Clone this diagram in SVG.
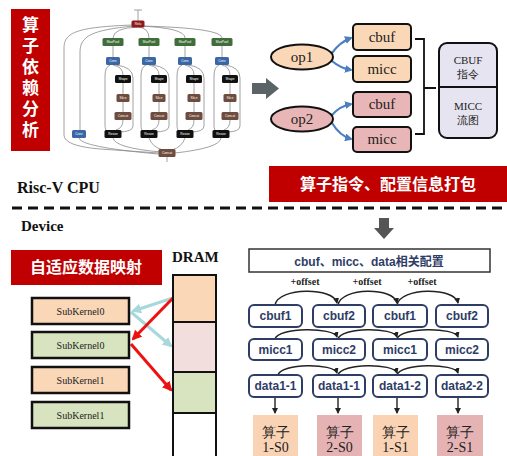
<svg xmlns="http://www.w3.org/2000/svg" width="507" height="456" viewBox="0 0 507 456">
<defs>
<style>
.g{fill:none;stroke:#8a8a8a;stroke-width:0.8}
.n{stroke:none}
.nt{font-family:"Liberation Sans",sans-serif;font-size:3.2px;fill:#fff;text-anchor:middle}
.relu{fill:#8e1b1b}.mp{fill:#3f6e3a}.cv{fill:#3b67a6}.bk{fill:#111}.br{fill:#6e4c3e}
.red{fill:#c00000}
.wt{font-family:"Noto Sans CJK SC",sans-serif;font-weight:bold;fill:#fff;text-anchor:middle}
.sf{font-family:"Liberation Serif",serif;fill:#222;text-anchor:middle}
.bx{stroke:#111;stroke-width:2}
.pe{fill:#fad7b7}.pk{fill:#e8b6b6}.gr{fill:#d8e4bf}
.cb{fill:#fff;stroke:#2e3d66;stroke-width:2}
.ct{font-family:"Liberation Sans","Noto Sans CJK SC",sans-serif;font-weight:bold;font-size:12px;fill:#2e3d66;text-anchor:middle}
.arc{fill:none;stroke:#222;stroke-width:1.4;marker-end:url(#ak)}
</style>
<marker id="ak" markerWidth="6" markerHeight="6" refX="5" refY="3" orient="auto" markerUnits="userSpaceOnUse"><path d="M0,0 L6,3 L0,6 z" fill="#222"/></marker>
<marker id="ab" markerWidth="8" markerHeight="8" refX="6" refY="4" orient="auto" markerUnits="userSpaceOnUse"><path d="M0,0 L8,4 L0,8 z" fill="#4a7fc1"/></marker>
<marker id="alb" markerWidth="10" markerHeight="10" refX="8" refY="5" orient="auto" markerUnits="userSpaceOnUse"><path d="M0,0 L10,5 L0,10 z" fill="#a8d8dc"/></marker>
<marker id="ar" markerWidth="10" markerHeight="10" refX="8" refY="5" orient="auto" markerUnits="userSpaceOnUse"><path d="M0,0 L10,5 L0,10 z" fill="#ee1111"/></marker>
</defs>
<rect width="507" height="456" fill="#fff"/>

<g id="title-dep">
<rect x="11" y="9" width="39" height="142" class="red"/>
<text x="30.5" y="16.5" writing-mode="tb" letter-spacing="4" font-size="17" font-family="Noto Sans CJK SC,sans-serif" font-weight="bold" fill="#fff">算子依赖分析</text>
</g>

<g id="graph-edges">
<path class="g" d="M138,10 L138,21 M134,10 L142,10"/>
<path class="g" d="M138,27 Q113,28 113,38 M138,27 Q149,28 149,38 M140,26 Q185,28 185,38 M142,26 Q222,28 222,38"/>
<path class="g" d="M133,25 C78,27 64,32 64,48 L64,135 Q64,146 100,149 L159,153"/>
<path class="g" d="M134,26 C92,30 80,36 80,52 L80,130"/>
<path class="g" d="M79,138 Q80,147 158,154"/>
<g id="col-edges">
<path class="g" d="M113,46 L113,57 M113,65 Q123,67 123,75 M110,65 Q105,67 105,76 L105,125 Q105,131 108,131 M116,65 Q133,67 133,78 L133,126 Q133,132 118,132 M123,83 L123,94 M123,102 L123,112 M123,120 Q123,128 116,130 M113,138 Q115,148 161,152"/>
<path class="g" d="M149,46 L149,57 M149,65 Q159,67 159,75 M146,65 Q141,67 141,76 L141,125 Q141,131 144,131 M152,65 Q169,67 169,78 L169,126 Q169,132 154,132 M159,83 L159,94 M159,102 L159,112 M159,120 Q159,128 152,130 M149,138 Q152,147 163,150"/>
<path class="g" d="M185,46 L185,57 M185,65 Q194,67 194,75 M182,65 Q177,67 177,76 L177,125 Q177,131 180,131 M188,65 Q204,67 204,78 L204,126 Q204,132 190,132 M194,83 L194,94 M194,102 L194,112 M194,120 Q194,128 188,130 M185,138 Q182,147 172,150"/>
<path class="g" d="M222,46 L222,57 M222,65 Q230,67 230,75 M219,65 Q214,67 214,76 L214,125 Q214,131 217,131 M225,65 Q240,67 240,78 L240,126 Q240,132 226,132 M230,83 L230,94 M230,102 L230,112 M230,120 Q230,128 224,130 M221,138 Q220,148 175,153"/>
</g>
<path class="g" d="M167,157 L167,162"/>
</g>

<g id="graph-nodes">
<g id="n-relu"><rect x="131.5" y="20.5" width="13" height="7" rx="1.5" class="relu"/><text class="nt" x="138" y="25">Relu</text></g>
<g id="n-mp1"><rect x="102.5" y="38" width="21" height="8" rx="1.5" class="mp"/><text class="nt" x="113" y="43">MaxPool</text></g>
<g id="n-mp2"><rect x="138.5" y="38" width="21" height="8" rx="1.5" class="mp"/><text class="nt" x="149" y="43">MaxPool</text></g>
<g id="n-mp3"><rect x="174.5" y="38" width="21" height="8" rx="1.5" class="mp"/><text class="nt" x="185" y="43">MaxPool</text></g>
<g id="n-mp4"><rect x="211.5" y="38" width="21" height="8" rx="1.5" class="mp"/><text class="nt" x="222" y="43">MaxPool</text></g>
<g id="n-cv1"><rect x="106" y="57" width="14" height="8" rx="1.5" class="cv"/><text class="nt" x="113" y="62">Conv</text></g>
<g id="n-cv2"><rect x="142" y="57" width="14" height="8" rx="1.5" class="cv"/><text class="nt" x="149" y="62">Conv</text></g>
<g id="n-cv3"><rect x="178" y="57" width="14" height="8" rx="1.5" class="cv"/><text class="nt" x="185" y="62">Conv</text></g>
<g id="n-cv4"><rect x="215" y="57" width="14" height="8" rx="1.5" class="cv"/><text class="nt" x="222" y="62">Conv</text></g>
<g id="n-sh1"><rect x="115" y="75" width="16" height="8" rx="1.5" class="bk"/><text class="nt" x="123" y="80">Shape</text></g>
<g id="n-sh2"><rect x="151" y="75" width="16" height="8" rx="1.5" class="bk"/><text class="nt" x="159" y="80">Shape</text></g>
<g id="n-sh3"><rect x="186" y="75" width="16" height="8" rx="1.5" class="bk"/><text class="nt" x="194" y="80">Shape</text></g>
<g id="n-sh4"><rect x="222" y="75" width="16" height="8" rx="1.5" class="bk"/><text class="nt" x="230" y="80">Shape</text></g>
<g id="n-sl1"><rect x="116.5" y="94" width="13" height="8" rx="1.5" class="br"/><text class="nt" x="123" y="99">Slice</text></g>
<g id="n-sl2"><rect x="152.5" y="94" width="13" height="8" rx="1.5" class="br"/><text class="nt" x="159" y="99">Slice</text></g>
<g id="n-sl3"><rect x="187.5" y="94" width="13" height="8" rx="1.5" class="br"/><text class="nt" x="194" y="99">Slice</text></g>
<g id="n-sl4"><rect x="223.5" y="94" width="13" height="8" rx="1.5" class="br"/><text class="nt" x="230" y="99">Slice</text></g>
<g id="n-cc1"><rect x="114.5" y="112" width="17" height="8" rx="1.5" class="br"/><text class="nt" x="123" y="117">Concat</text></g>
<g id="n-cc2"><rect x="150.5" y="112" width="17" height="8" rx="1.5" class="br"/><text class="nt" x="159" y="117">Concat</text></g>
<g id="n-cc3"><rect x="185.5" y="112" width="17" height="8" rx="1.5" class="br"/><text class="nt" x="194" y="117">Concat</text></g>
<g id="n-cc4"><rect x="221.5" y="112" width="17" height="8" rx="1.5" class="br"/><text class="nt" x="230" y="117">Concat</text></g>
<g id="n-rs1"><rect x="104.5" y="130" width="17" height="8" rx="1.5" class="bk"/><text class="nt" x="113" y="135">Resize</text></g>
<g id="n-rs2"><rect x="140.5" y="130" width="17" height="8" rx="1.5" class="bk"/><text class="nt" x="149" y="135">Resize</text></g>
<g id="n-rs3"><rect x="176.5" y="130" width="17" height="8" rx="1.5" class="bk"/><text class="nt" x="185" y="135">Resize</text></g>
<g id="n-rs4"><rect x="212.5" y="130" width="17" height="8" rx="1.5" class="bk"/><text class="nt" x="221" y="135">Resize</text></g>
<g id="n-cv0"><rect x="72" y="130" width="14" height="8" rx="1.5" class="cv"/><text class="nt" x="79" y="135">Conv</text></g>
<g id="n-ccb"><rect x="158.5" y="149" width="17" height="8" rx="1.5" class="br"/><text class="nt" x="167" y="154">Concat</text></g>
</g>

<g id="big-arrows">
<polygon points="252,83 266,83 266,78 279,88.5 266,99 266,94 252,94" fill="#5a6466"/>
<polygon points="379,218 389,218 389,228 394,228 384,239 374,228 379,228" fill="#555"/>
</g>

<g id="connectors">
<g stroke="#4a7fc1" stroke-width="2.2" fill="none" marker-end="url(#ab)">
<path d="M332,53 Q340,42 351,38"/>
<path d="M332,61 Q340,68 351,70"/>
<path d="M332,115 Q340,106 351,104"/>
<path d="M332,123 Q340,136 351,139"/>
</g>
<path d="M415,39 L424,39 L424,134 L415,134 M424,88 L436,88" fill="none" stroke="#111" stroke-width="1.8"/>
<g stroke="#a8d8dc" stroke-width="3" fill="none" marker-end="url(#alb)">
<path d="M173,298 L133,311"/>
<path d="M131,312 L171,346"/>
</g>
<g stroke="#ee1111" stroke-width="3" fill="none" marker-end="url(#ar)">
<path d="M173,298 L133,339"/>
<path d="M131,344 L171,390"/>
</g>
<path class="arc" d="M275,305 C278,287 334,287 337,303"/>
<path class="arc" d="M338,305 C341,287 394,287 397,303"/>
<path class="arc" d="M397,305 C400,287 455,287 458,303"/>
<path class="arc" d="M275,339 C278,327 334,327 337,337"/>
<path class="arc" d="M338,339 C341,327 394,327 397,337"/>
<path class="arc" d="M397,339 C400,327 455,327 458,337"/>
<path class="arc" d="M278,375 C281,363 334,363 337,373"/>
<path class="arc" d="M338,375 C341,363 394,363 397,373"/>
<path class="arc" d="M397,375 C400,363 455,363 458,373"/>
<path class="arc" d="M275,397 L275,413"/>
<path class="arc" d="M338,397 L338,413"/>
<path class="arc" d="M397,397 L397,413"/>
<path class="arc" d="M458,397 L458,413"/>
</g>

<g id="op1"><ellipse cx="302" cy="57" rx="31" ry="12.5" class="pe bx"/><text class="sf" font-size="15" x="302" y="62">op1</text></g>
<g id="op2"><ellipse cx="302" cy="119" rx="31" ry="12.5" class="pk bx"/><text class="sf" font-size="15" x="302" y="124">op2</text></g>
<g id="cbuf-a"><rect x="353" y="24" width="58" height="26" rx="4" class="pe bx"/><text class="sf" font-size="15" x="382" y="42">cbuf</text></g>
<g id="micc-a"><rect x="353" y="56" width="58" height="26" rx="4" class="pe bx"/><text class="sf" font-size="15" x="382" y="74">micc</text></g>
<g id="cbuf-b"><rect x="353" y="92" width="58" height="25" rx="4" class="pk bx"/><text class="sf" font-size="15" x="382" y="109">cbuf</text></g>
<g id="micc-b"><rect x="353" y="127" width="58" height="25" rx="4" class="pk bx"/><text class="sf" font-size="15" x="382" y="144">micc</text></g>
<g id="instr-box">
<rect x="439" y="43" width="58" height="95" rx="8" fill="#e6e4f0" class="bx"/>
<line x1="439" y1="87" x2="497" y2="87" stroke="#111" stroke-width="2"/>
<text class="sf" font-size="11" x="468" y="64">CBUF</text>
<text class="sf" font-size="11" x="468" y="78" font-family="Noto Sans CJK SC,sans-serif">指令</text>
<text class="sf" font-size="11" x="468" y="110">MICC</text>
<text class="sf" font-size="11" x="468" y="124" font-family="Noto Sans CJK SC,sans-serif">流图</text>
</g>

<g id="pack-banner">
<rect x="269" y="166" width="238" height="36" class="red"/>
<text class="wt" font-size="16" x="388" y="190">算子指令、配置信息打包</text>
</g>

<g id="divider">
<text x="17" y="193" font-family="Liberation Serif,serif" font-weight="bold" font-size="16" fill="#111">Risc-V CPU</text>
<line x1="12" y1="208" x2="507" y2="208" stroke="#111" stroke-width="3" stroke-dasharray="10 6"/>
<text x="21" y="231" font-family="Liberation Serif,serif" font-weight="bold" font-size="15" fill="#111">Device</text>
</g>

<g id="map-banner">
<rect x="11" y="250" width="151" height="35" class="red"/>
<text class="wt" font-size="16" x="86" y="273">自适应数据映射</text>
</g>

<g id="dram">
<text x="172" y="262" font-family="Liberation Serif,serif" font-weight="bold" font-size="15" fill="#111">DRAM</text>
<rect x="173" y="275" width="43" height="47" class="pe bx"/>
<rect x="173" y="322" width="43" height="50" fill="#f3dede" class="bx"/>
<rect x="173" y="372" width="43" height="41" class="gr bx"/>
<rect x="173" y="413" width="43" height="46" fill="#fff" class="bx"/>
</g>

<g id="sk1"><rect x="32" y="298" width="97" height="26" class="pe" stroke="#111" stroke-width="2.5"/><text class="sf" font-size="10" x="80.5" y="315">SubKernel0</text></g>
<g id="sk2"><rect x="32" y="332" width="97" height="26" class="gr" stroke="#111" stroke-width="2.5"/><text class="sf" font-size="10" x="80.5" y="349">SubKernel0</text></g>
<g id="sk3"><rect x="32" y="367" width="97" height="26" class="pe" stroke="#111" stroke-width="2.5"/><text class="sf" font-size="10" x="80.5" y="384">SubKernel1</text></g>
<g id="sk4"><rect x="32" y="402" width="97" height="26" class="gr" stroke="#111" stroke-width="2.5"/><text class="sf" font-size="10" x="80.5" y="419">SubKernel1</text></g>

<g id="config-title">
<rect x="249" y="249" width="241" height="23" fill="#fff" stroke="#333" stroke-width="1.5"/>
<text class="ct" font-size="14" x="369" y="266">cbuf、micc、data相关配置</text>
</g>
<g id="offsets" font-family="Liberation Serif,serif" font-weight="bold" font-size="10" fill="#222" text-anchor="middle">
<text x="305" y="285">+offset</text>
<text x="367" y="285">+offset</text>
<text x="422" y="285">+offset</text>
</g>

<g id="c1"><rect x="249" y="305" width="53" height="22" rx="5" class="cb"/><text class="ct" x="275.5" y="320">cbuf1</text></g>
<g id="c2"><rect x="313" y="305" width="52" height="22" rx="5" class="cb"/><text class="ct" x="339" y="320">cbuf2</text></g>
<g id="c3"><rect x="373" y="305" width="54" height="22" rx="5" class="cb"/><text class="ct" x="400" y="320">cbuf1</text></g>
<g id="c4"><rect x="436" y="305" width="52" height="22" rx="5" class="cb"/><text class="ct" x="462" y="320">cbuf2</text></g>
<g id="m1"><rect x="249" y="339" width="53" height="21" rx="5" class="cb"/><text class="ct" x="275.5" y="354">micc1</text></g>
<g id="m2"><rect x="313" y="339" width="52" height="21" rx="5" class="cb"/><text class="ct" x="339" y="354">micc2</text></g>
<g id="m3"><rect x="373" y="339" width="54" height="21" rx="5" class="cb"/><text class="ct" x="400" y="354">micc1</text></g>
<g id="m4"><rect x="436" y="339" width="52" height="21" rx="5" class="cb"/><text class="ct" x="462" y="354">micc2</text></g>
<g id="d1"><rect x="249" y="375" width="53" height="22" rx="5" class="cb"/><text class="ct" x="275.5" y="390">data1-1</text></g>
<g id="d2"><rect x="313" y="375" width="52" height="22" rx="5" class="cb"/><text class="ct" x="339" y="390">data1-1</text></g>
<g id="d3"><rect x="373" y="375" width="54" height="22" rx="5" class="cb"/><text class="ct" x="400" y="390">data1-2</text></g>
<g id="d4"><rect x="436" y="375" width="52" height="22" rx="5" class="cb"/><text class="ct" x="462" y="390">data2-2</text></g>

<g id="op-1s0"><rect x="253" y="415" width="45" height="45" fill="#f9d3b3"/><text class="sf" font-size="14" x="275.5" y="437" font-family="Noto Sans CJK SC,sans-serif">算子</text><text class="sf" font-size="14" x="275.5" y="452">1-S0</text></g>
<g id="op-2s0"><rect x="317" y="415" width="45" height="45" fill="#e6b3b5"/><text class="sf" font-size="14" x="339.5" y="437" font-family="Noto Sans CJK SC,sans-serif">算子</text><text class="sf" font-size="14" x="339.5" y="452">2-S0</text></g>
<g id="op-1s1"><rect x="373" y="415" width="45" height="45" fill="#f9d3b3"/><text class="sf" font-size="14" x="395.5" y="437" font-family="Noto Sans CJK SC,sans-serif">算子</text><text class="sf" font-size="14" x="395.5" y="452">1-S1</text></g>
<g id="op-2s1"><rect x="437" y="415" width="46" height="45" fill="#e6b3b5"/><text class="sf" font-size="14" x="460" y="437" font-family="Noto Sans CJK SC,sans-serif">算子</text><text class="sf" font-size="14" x="460" y="452">2-S1</text></g>
</svg>
